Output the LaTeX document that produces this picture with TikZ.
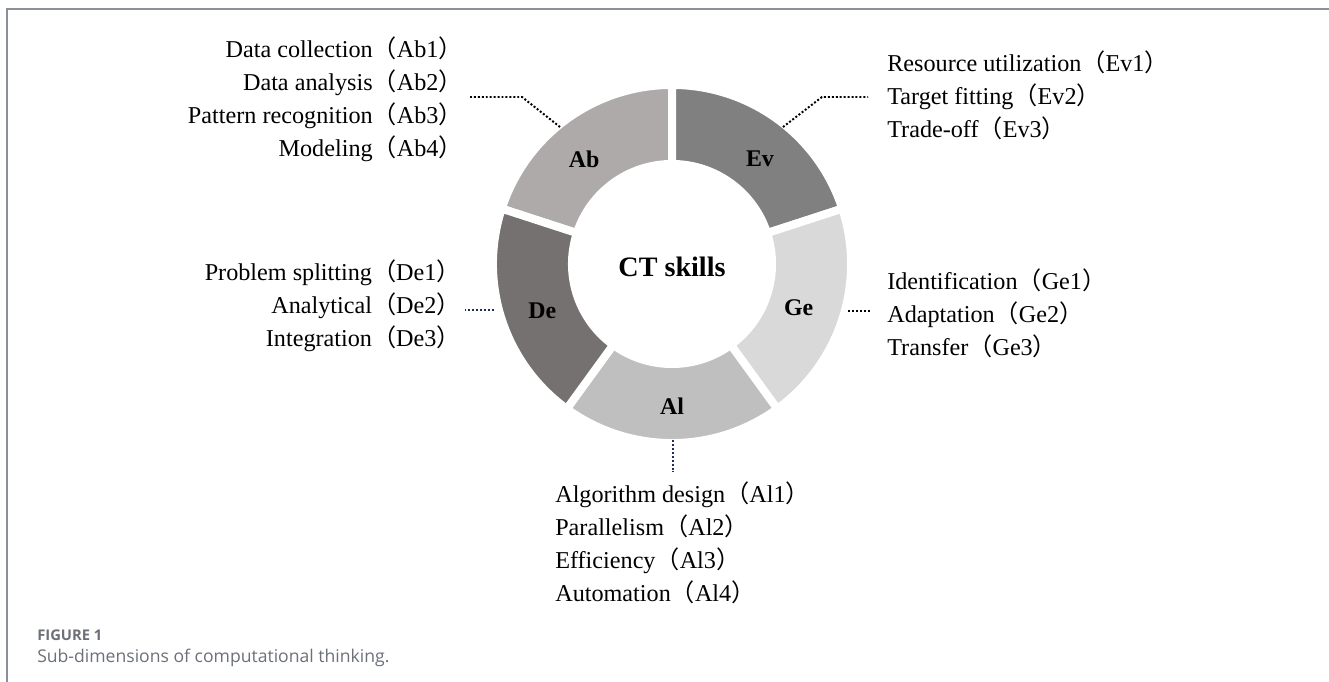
\documentclass[tikz,border=0pt]{standalone}
\usepackage{fontspec}
\setmainfont{Liberation Serif}
\newfontfamily\cjkfont{Noto Sans CJK SC}
\newfontfamily\capfont{Open Sans}
\newcommand{\cnlp}{{\cjkfont （}}
\newcommand{\cnrp}{{\cjkfont ）}}
\definecolor{abgray}{HTML}{AEAAAA}
\definecolor{evgray}{HTML}{808080}
\definecolor{gegray}{HTML}{D9D9D9}
\definecolor{algray}{HTML}{BFBFBF}
\definecolor{degray}{HTML}{767171}
\definecolor{navydot}{HTML}{1F2D5A}
\definecolor{framegray}{HTML}{8A8F99}
\definecolor{capgray}{HTML}{6B7079}
\tikzset{
  seg/.style={draw=white, line width=0.2cm},
  kcode/.style={font=\fontsize{17}{20}\selectfont\bfseries},
  kcenter/.style={font=\fontsize{20}{24}\selectfont\bfseries},
  kitems/.style={font=\fontsize{17.2}{23.5}\selectfont, inner sep=0pt},
  leader/.style={line width=1.4pt, dash pattern=on 1.4pt off 1.4pt},
  frame/.style={draw=framegray, line width=1pt},
  kcapfig/.style={font=\capfont\fontsize{10.5}{12}\selectfont\bfseries, text=capgray, inner sep=0pt},
  kcaptext/.style={font=\capfont\fontsize{12.5}{15}\selectfont, text=capgray, inner sep=0pt},
}

\begin{document}
\begin{tikzpicture}[x=0.025cm, y=0.025cm]
  \useasboundingbox (0,0) rectangle (1329,682);
  \draw[frame] (7,0) -- (7,673) -- (1329,673);
  % ring
  \begin{scope}[shift={(672,418)}]
    \filldraw[seg, fill=abgray] (90:4.475cm) arc[start angle=90, end angle=162, radius=4.475cm] -- (162:2.5cm) arc[start angle=162, end angle=90, radius=2.5cm] -- cycle;
    \filldraw[seg, fill=evgray] (18:4.475cm) arc[start angle=18, end angle=90, radius=4.475cm] -- (90:2.5cm) arc[start angle=90, end angle=18, radius=2.5cm] -- cycle;
    \filldraw[seg, fill=gegray] (-54:4.475cm) arc[start angle=-54, end angle=18, radius=4.475cm] -- (18:2.5cm) arc[start angle=18, end angle=-54, radius=2.5cm] -- cycle;
    \filldraw[seg, fill=algray] (-126:4.475cm) arc[start angle=-126, end angle=-54, radius=4.475cm] -- (-54:2.5cm) arc[start angle=-54, end angle=-126, radius=2.5cm] -- cycle;
    \filldraw[seg, fill=degray] (162:4.475cm) arc[start angle=162, end angle=234, radius=4.475cm] -- (234:2.5cm) arc[start angle=234, end angle=162, radius=2.5cm] -- cycle;
    \node[kcode] (abseg) at (130:3.42cm) {Ab};
    \node[kcode] (evseg) at (50:3.42cm) {Ev};
    \node[kcode] (geseg) at (-19:3.35cm) {Ge};
    \node[kcode] (alseg) at (-90:3.55cm) {Al};
    \node[kcode] (deseg) at (200:3.45cm) {De};
    \node[kcenter] (ct) at (0,-3) {CT skills};
  \end{scope}
  % sub-dimensions
  \node[kitems, anchor=east, align=right] (ab) at (463,583) {Data collection\cnlp Ab1\cnrp\\Data analysis\cnlp Ab2\cnrp\\Pattern recognition\cnlp Ab3\cnrp\\Modeling\cnlp Ab4\cnrp};
  \node[kitems, anchor=west, align=left] (ev) at (887,587) {Resource utilization\cnlp Ev1\cnrp\\Target fitting\cnlp Ev2\cnrp\\Trade-off\cnlp Ev3\cnrp};
  \node[kitems, anchor=west, align=left] (ge) at (887,369) {Identification\cnlp Ge1\cnrp\\Adaptation\cnlp Ge2\cnrp\\Transfer\cnlp Ge3\cnrp};
  \node[kitems, anchor=east, align=right] (de) at (461,376) {Problem splitting\cnlp De1\cnrp\\Analytical\cnlp De2\cnrp\\Integration\cnlp De3\cnrp};
  \node[kitems, anchor=west, align=left] (al) at (555,139) {Algorithm design\cnlp Al1\cnrp\\Parallelism\cnlp Al2\cnrp\\Efficiency\cnlp Al3\cnrp\\Automation\cnlp Al4\cnrp};
  % leaders
  \coordinate (abfoot) at (560,555);
  \coordinate (abknee) at (522,585);
  \coordinate (abtip) at (470,585);
  \coordinate (evfoot) at (783,555);
  \coordinate (evknee) at (822,585);
  \coordinate (evtip) at (868,585);
  \coordinate (gefoot) at (848,371);
  \coordinate (getip) at (870,371);
  \coordinate (defoot) at (494,372);
  \coordinate (detip) at (465,372);
  \coordinate (alfoot) at (673,242);
  \coordinate (altip) at (673,210);
  \draw[leader] (abfoot) -- (abknee) -- (abtip);
  \draw[leader] (evfoot) -- (evknee) -- (evtip);
  \draw[leader] (gefoot) -- (getip);
  \draw[leader, navydot] (defoot) -- (detip);
  \draw[leader, navydot] (alfoot) -- (altip);
  % caption
  \node[kcapfig, anchor=west] (fig) at (37,47) {FIGURE 1};
  \node[kcaptext, anchor=west] (cap) at (37,24) {Sub-dimensions of computational thinking.};
\end{tikzpicture}
\end{document}
